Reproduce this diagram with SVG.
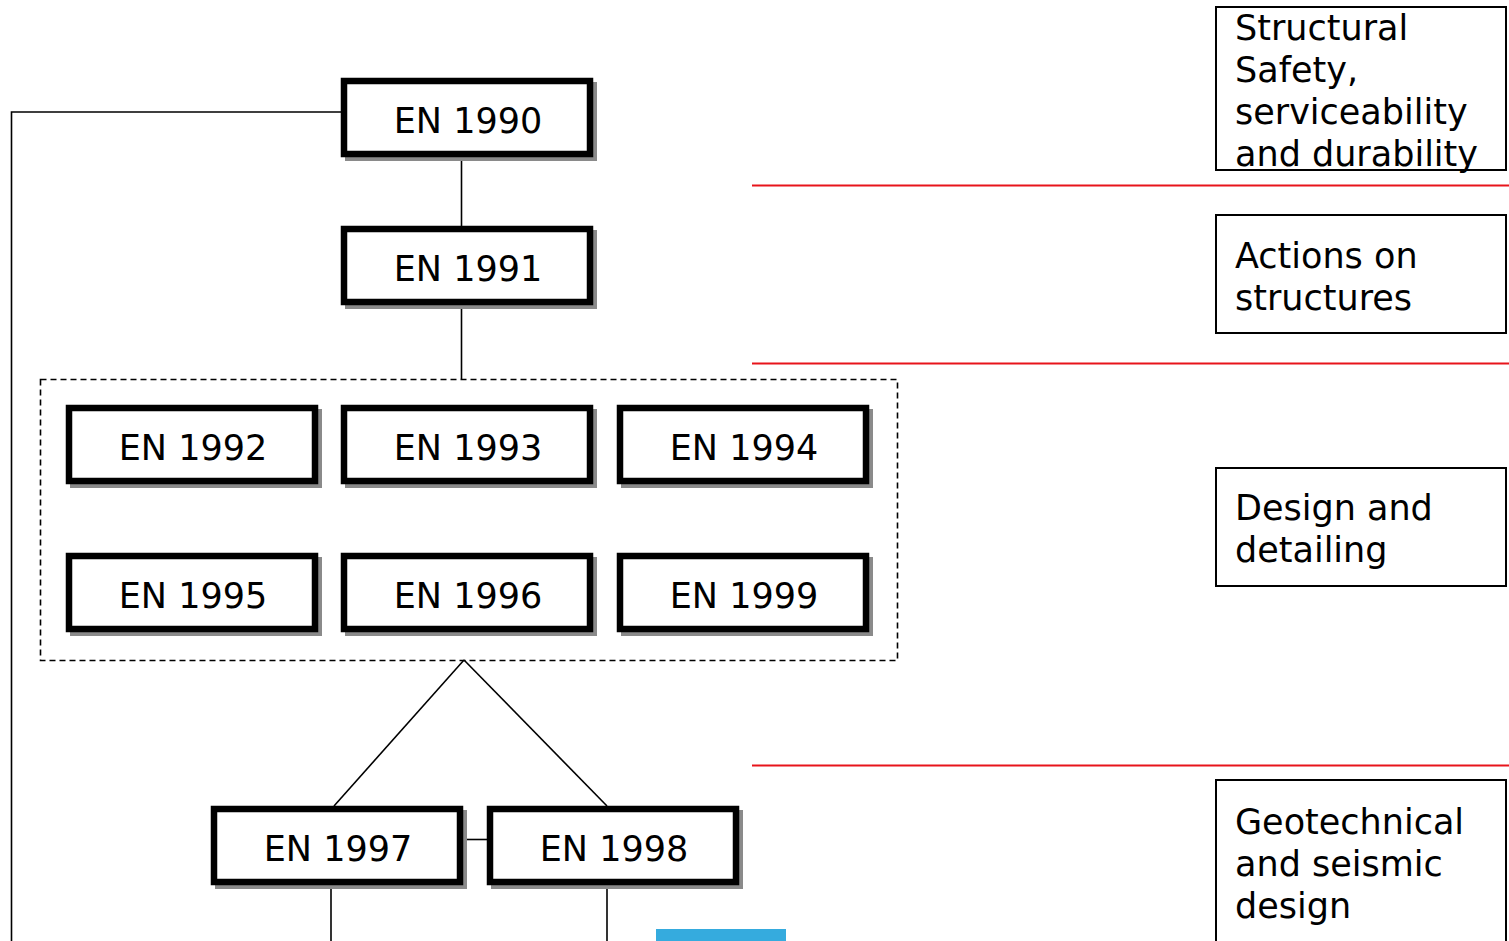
<svg xmlns="http://www.w3.org/2000/svg" width="1509" height="941" viewBox="0 0 1509 941">
<style>
.sh{fill:#8a8a8a}
.bx{fill:#fff;stroke:#000;stroke-width:6.5}
.t{font-family:"DejaVu Sans",Verdana,sans-serif;font-size:35px;fill:#000}
.c{text-anchor:middle}
.rb{fill:#fff;stroke:#000;stroke-width:2}
.red{stroke:#e8141b;stroke-width:1.8}
.ln{stroke:#000;stroke-width:1.6;fill:none}
</style>
<rect width="1509" height="941" fill="#fff"/>
<g id="separators">
<line class="red" x1="752" y1="185.5" x2="1509" y2="185.5"/>
<line class="red" x1="752" y1="363.5" x2="1509" y2="363.5"/>
<line class="red" x1="752" y1="765.5" x2="1509" y2="765.5"/>
</g>
<g id="connectors">
<polyline class="ln" points="344,112 11.5,112 11.5,941"/>
<line class="ln" x1="461.5" y1="157" x2="461.5" y2="226"/>
<line class="ln" x1="461.5" y1="305" x2="461.5" y2="379"/>
<line class="ln" x1="464" y1="660" x2="334" y2="806"/>
<line class="ln" x1="464" y1="660" x2="607" y2="806"/>
<line class="ln" x1="463" y1="839.5" x2="487" y2="839.5"/>
<line class="ln" x1="331" y1="885" x2="331" y2="941"/>
<line class="ln" x1="607" y1="885" x2="607" y2="941"/>
</g>
<g id="group-design">
<rect x="40.5" y="379.5" width="857" height="281" fill="none" stroke="#000" stroke-width="1.6" stroke-dasharray="6,4"/>
</g>
<g id="en1990"><rect class="sh" x="345" y="82" width="252" height="79"/><rect class="bx" x="344" y="81" width="246" height="73"/><text class="t c" x="468" y="133">EN 1990</text></g>
<g id="en1991"><rect class="sh" x="345" y="230" width="252" height="79"/><rect class="bx" x="344" y="229" width="246" height="73"/><text class="t c" x="468" y="281">EN 1991</text></g>
<g id="en1992"><rect class="sh" x="70" y="409" width="252" height="79"/><rect class="bx" x="69" y="408" width="246" height="73"/><text class="t c" x="193" y="460">EN 1992</text></g>
<g id="en1993"><rect class="sh" x="345" y="409" width="252" height="79"/><rect class="bx" x="344" y="408" width="246" height="73"/><text class="t c" x="468" y="460">EN 1993</text></g>
<g id="en1994"><rect class="sh" x="621" y="409" width="252" height="79"/><rect class="bx" x="620" y="408" width="246" height="73"/><text class="t c" x="744" y="460">EN 1994</text></g>
<g id="en1995"><rect class="sh" x="70" y="557" width="252" height="79"/><rect class="bx" x="69" y="556" width="246" height="73"/><text class="t c" x="193" y="608">EN 1995</text></g>
<g id="en1996"><rect class="sh" x="345" y="557" width="252" height="79"/><rect class="bx" x="344" y="556" width="246" height="73"/><text class="t c" x="468" y="608">EN 1996</text></g>
<g id="en1999"><rect class="sh" x="621" y="557" width="252" height="79"/><rect class="bx" x="620" y="556" width="246" height="73"/><text class="t c" x="744" y="608">EN 1999</text></g>
<g id="en1997"><rect class="sh" x="215" y="810" width="252" height="79"/><rect class="bx" x="214" y="809" width="246" height="73"/><text class="t c" x="338" y="861">EN 1997</text></g>
<g id="en1998"><rect class="sh" x="491" y="810" width="252" height="79"/><rect class="bx" x="490" y="809" width="246" height="73"/><text class="t c" x="614" y="861">EN 1998</text></g>
<g id="label-safety"><rect class="rb" x="1216" y="7" width="290" height="163"/>
<text class="t" x="1235" y="40">Structural</text><text class="t" x="1235" y="82">Safety,</text><text class="t" x="1235" y="124">serviceability</text><text class="t" x="1235" y="166">and durability</text></g>
<g id="label-actions"><rect class="rb" x="1216" y="215" width="290" height="118"/>
<text class="t" x="1235" y="268">Actions on</text><text class="t" x="1235" y="310">structures</text></g>
<g id="label-design"><rect class="rb" x="1216" y="468" width="290" height="118"/>
<text class="t" x="1235" y="520">Design and</text><text class="t" x="1235" y="562">detailing</text></g>
<g id="label-geo"><rect class="rb" x="1216" y="780" width="290" height="170"/>
<text class="t" x="1235" y="834">Geotechnical</text><text class="t" x="1235" y="876">and seismic</text><text class="t" x="1235" y="918">design</text></g>
<g id="blue-tab"><rect x="656" y="929" width="130" height="12" fill="#35abde"/></g>
</svg>
